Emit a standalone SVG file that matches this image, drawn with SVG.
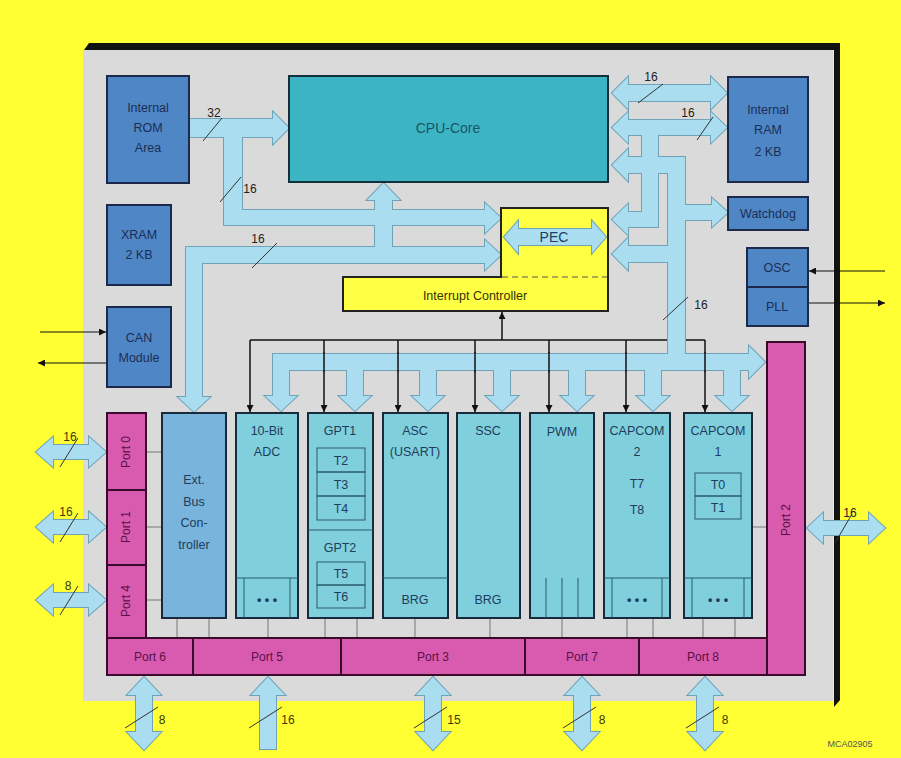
<svg xmlns="http://www.w3.org/2000/svg" xmlns:xlink="http://www.w3.org/1999/xlink" width="901" height="758" viewBox="0 0 901 758">
<style>
text{font-family:"Liberation Sans",Arial,sans-serif;text-anchor:middle}
.mem{fill:#4F86C6;stroke:#1B2A4A;stroke-width:2}
.mtx{font-size:12.5px;fill:#1B2E55}
.mod{fill:#80CFDC;stroke:#1A2A3A;stroke-width:2}
.sub{fill:none;stroke:#2A5A6A;stroke-width:1}
.ttx{font-size:12.5px;fill:#1E3D5C}
.port{fill:#D95BAF;stroke:#3A0A2A;stroke-width:2}
.ptx{font-size:12px;fill:#5A1045}
.bo{fill:none;stroke:#6FA3B8;stroke-width:2;stroke-linejoin:miter}
.bf{fill:#A9DDEF}
.sig{stroke:#111;stroke-width:1.5;fill:none}
.thin{stroke:#777;stroke-width:1;fill:none}
.sl{stroke:#333;stroke-width:1;fill:none}
.lbl{font-size:12px;fill:#222}
.ylbl{font-size:12px;fill:#3A3A00}
</style>
<defs>
<marker id="ah" viewBox="0 0 10 10" refX="10" refY="5" markerWidth="7" markerHeight="7" orient="auto" markerUnits="userSpaceOnUse">
<path d="M0,0 L10,5 L0,10 Z" fill="#111"/>
</marker>
<path id="b1" d="M189,119 H273 V112 L289,128 L273,144 V137 H242 V210 H485 V203 L501,218 L485,233 V225 H224 V137 H189 Z"/>
<path id="b2" d="M186,247 H375 V200 H367 L383.5,183 L400,200 H392 V247 H485 V240 L501,255 L485,270 V263 H202 V397 H210 L194,412 L178,397 H186 Z"/>
<path id="b3" d="M612,93 L628,77 V85 H711 V77 L727,93 L711,109 V101 H628 V109 Z"/>
<path id="b4" d="M612,127.5 L628,112 V120 H711 V112 L727,127.5 L711,143 V135 H658 V227 H628 V235 L612,219.5 L628,204 V212 H642 V135 H628 V143 Z"/>
<path id="b5" d="M612,165 L628,149 V157 H685 V205 H712 V198 L728,212.5 L712,227 V220 H685 V354 H749 V346 L765,362 L749,378 V370 H740 V396 H748 L732,411 L716,396 H724 V370 H661 V396 H669 L653,411 L637,396 H645 V370 H585 V396 H593 L577,411 L561,396 H569 V370 H510 V396 H518 L502,411 L486,396 H494 V370 H436 V396 H444 L428,411 L412,396 H420 V370 H363 V396 H371 L355,411 L339,396 H347 V370 H289 V396 H297 L281,411 L265,396 H273 V354 H668 V262 H628 V270 L612,254 L628,238 V246 H668 V173 H628 V181 Z"/>
<path id="pec" d="M504,237 L518,221 V229 H592 V221 L606,237 L592,253 V245 H518 V253 Z"/>
<path id="e0" d="M36,452 L53,437 V445 H89 V437 L106,452 L89,467 V459 H53 V467 Z"/>
<path id="e1" d="M36,527 L53,512 V520 H89 V512 L106,527 L89,542 V534 H53 V542 Z"/>
<path id="e4" d="M36,600 L53,585 V593 H89 V585 L106,600 L89,615 V607 H53 V615 Z"/>
<path id="e2" d="M807,528 L823,513 V521 H869 V513 L885,528 L869,543 V535 H823 V543 Z"/>
<path id="p6" d="M144,677 L161,695 H152 V732 H161 L144,750 L127,732 H136 V695 H127 Z"/>
<path id="p5" d="M268,677 L285,695 H276 V749 H260 V695 H251 Z"/>
<path id="p3" d="M433,677 L450,695 H441 V732 H450 L433,750 L416,732 H425 V695 H416 Z"/>
<path id="p7" d="M582,677 L599,695 H590 V732 H599 L582,750 L565,732 H574 V695 H565 Z"/>
<path id="p8" d="M705,677 L722,695 H713 V732 H722 L705,750 L688,732 H697 V695 H688 Z"/>
</defs>

<rect x="0" y="0" width="901" height="758" fill="#FFFF33"/>
<g id="chip">
<polygon points="84,50 89,43 840,43 840,700 834,707 834,50" fill="#111"/>
<rect x="83" y="50" width="750" height="651" fill="#DADADA"/>
</g>

<g id="connectors">
<g class="sig">
<line x1="250" y1="340" x2="668" y2="340"/>
<line x1="685" y1="340" x2="705" y2="340"/>
<line x1="502" y1="340" x2="502" y2="312" marker-end="url(#ah)"/>
<line x1="250" y1="340" x2="250" y2="412" marker-end="url(#ah)"/>
<line x1="324" y1="340" x2="324" y2="412" marker-end="url(#ah)"/>
<line x1="398" y1="340" x2="398" y2="412" marker-end="url(#ah)"/>
<line x1="475" y1="340" x2="475" y2="412" marker-end="url(#ah)"/>
<line x1="549" y1="340" x2="549" y2="412" marker-end="url(#ah)"/>
<line x1="626" y1="340" x2="626" y2="412" marker-end="url(#ah)"/>
<line x1="705" y1="340" x2="705" y2="412" marker-end="url(#ah)"/>
<line x1="40" y1="332" x2="106" y2="332" stroke-width="1" marker-end="url(#ah)"/>
<line x1="107" y1="363" x2="38" y2="363" stroke-width="1" marker-end="url(#ah)"/>
<line x1="885" y1="271" x2="809" y2="271" stroke-width="1" marker-end="url(#ah)"/>
<line x1="808" y1="303" x2="885" y2="303" stroke-width="1" marker-end="url(#ah)"/>
</g>
<g id="bus-outline">
<use xlink:href="#b1" class="bo"/><use xlink:href="#b2" class="bo"/><use xlink:href="#b3" class="bo"/><use xlink:href="#b4" class="bo"/><use xlink:href="#b5" class="bo"/>
<use xlink:href="#e0" class="bo"/><use xlink:href="#e1" class="bo"/><use xlink:href="#e4" class="bo"/><use xlink:href="#e2" class="bo"/>
<use xlink:href="#p6" class="bo"/><use xlink:href="#p5" class="bo"/><use xlink:href="#p3" class="bo"/><use xlink:href="#p7" class="bo"/><use xlink:href="#p8" class="bo"/>
</g>
<g id="bus-fill">
<use xlink:href="#b1" class="bf"/><use xlink:href="#b2" class="bf"/><use xlink:href="#b3" class="bf"/><use xlink:href="#b4" class="bf"/><use xlink:href="#b5" class="bf"/>
<use xlink:href="#e0" class="bf"/><use xlink:href="#e1" class="bf"/><use xlink:href="#e4" class="bf"/><use xlink:href="#e2" class="bf"/>
<use xlink:href="#p6" class="bf"/><use xlink:href="#p5" class="bf"/><use xlink:href="#p3" class="bf"/><use xlink:href="#p7" class="bf"/><use xlink:href="#p8" class="bf"/>
</g>
<g class="sig" stroke-width="1.5">
<line x1="324" y1="352" x2="324" y2="372"/>
<line x1="398" y1="352" x2="398" y2="372"/>
<line x1="475" y1="352" x2="475" y2="372"/>
<line x1="549" y1="352" x2="549" y2="372"/>
<line x1="626" y1="352" x2="626" y2="372"/>
<line x1="705" y1="352" x2="705" y2="372"/>
</g>
<g class="thin">
<line x1="146" y1="452" x2="162" y2="452"/>
<line x1="146" y1="527" x2="162" y2="527"/>
<line x1="146" y1="600" x2="162" y2="600"/>
<line x1="752" y1="527" x2="767" y2="527"/>
<line x1="177" y1="618" x2="177" y2="638"/>
<line x1="209" y1="618" x2="209" y2="638"/>
<line x1="268" y1="618" x2="268" y2="638"/>
<line x1="325" y1="618" x2="325" y2="638"/>
<line x1="357" y1="618" x2="357" y2="638"/>
<line x1="415" y1="618" x2="415" y2="638"/>
<line x1="490" y1="618" x2="490" y2="638"/>
<line x1="562" y1="618" x2="562" y2="638"/>
<line x1="627" y1="618" x2="627" y2="638"/>
<line x1="653" y1="618" x2="653" y2="638"/>
<line x1="703" y1="618" x2="703" y2="638"/>
<line x1="735" y1="618" x2="735" y2="638"/>
</g>
<g class="sl">
<line x1="203" y1="141" x2="222" y2="118"/>
<line x1="220" y1="202" x2="241" y2="177"/>
<line x1="252" y1="268" x2="277" y2="243"/>
<line x1="638" y1="103" x2="663" y2="84"/>
<line x1="697" y1="140" x2="713" y2="117"/>
<line x1="663" y1="320" x2="688" y2="297"/>
<line x1="60" y1="467" x2="78" y2="438"/>
<line x1="60" y1="542" x2="78" y2="513"/>
<line x1="60" y1="615" x2="78" y2="586"/>
<line x1="835" y1="543" x2="852" y2="514"/>
<line x1="125" y1="728" x2="158" y2="707"/>
<line x1="249" y1="728" x2="282" y2="707"/>
<line x1="414" y1="728" x2="447" y2="707"/>
<line x1="563" y1="728" x2="596" y2="707"/>
<line x1="686" y1="728" x2="719" y2="707"/>
</g>
<g>
<text class="lbl" x="214" y="117">32</text>
<text class="lbl" x="250" y="193">16</text>
<text class="lbl" x="258" y="243">16</text>
<text class="lbl" x="651" y="81">16</text>
<text class="lbl" x="688" y="117">16</text>
<text class="lbl" x="701" y="309">16</text>
<text class="ylbl" x="70" y="441">16</text>
<text class="ylbl" x="66" y="516">16</text>
<text class="ylbl" x="68" y="590">8</text>
<text class="lbl" x="850" y="517">16</text>
<text class="ylbl" x="162" y="724">8</text>
<text class="ylbl" x="288" y="724">16</text>
<text class="ylbl" x="454" y="724">15</text>
<text class="ylbl" x="602" y="724">8</text>
<text class="ylbl" x="725" y="724">8</text>
</g>
</g>

<g id="rom"><rect class="mem" x="107" y="76" width="82" height="107"/>
<text class="mtx" x="148" y="112">Internal</text><text class="mtx" x="148" y="132">ROM</text><text class="mtx" x="148" y="152">Area</text></g>
<g id="cpu"><rect x="289" y="76" width="319" height="106" fill="#3DB4C4" stroke="#14303A" stroke-width="2"/>
<text x="448" y="133" style="font-size:14px;fill:#1A5566">CPU-Core</text></g>
<g id="ram"><rect class="mem" x="728" y="77" width="80" height="105"/>
<text class="mtx" x="768" y="114">Internal</text><text class="mtx" x="768" y="134">RAM</text><text class="mtx" x="768" y="156">2 KB</text></g>
<g id="watchdog"><rect class="mem" x="728" y="197" width="80" height="33"/>
<text class="mtx" x="768" y="218">Watchdog</text></g>
<g id="osc"><rect class="mem" x="747" y="248" width="61" height="39"/>
<text class="mtx" x="777" y="272">OSC</text></g>
<g id="pll"><rect class="mem" x="747" y="287" width="61" height="39"/>
<text class="mtx" x="777" y="311">PLL</text></g>
<g id="xram"><rect class="mem" x="107" y="205" width="64" height="80"/>
<text class="mtx" x="139" y="239">XRAM</text><text class="mtx" x="139" y="259">2 KB</text></g>
<g id="can"><rect class="mem" x="107" y="307" width="64" height="80"/>
<text class="mtx" x="139" y="342">CAN</text><text class="mtx" x="139" y="362">Module</text></g>

<g id="intctrl">
<polygon points="501,208 608,208 608,311 343,311 343,277 501,277" fill="#FFFF44" stroke="#222" stroke-width="2"/>
<line x1="502" y1="277" x2="607" y2="277" stroke="#555" stroke-width="1" stroke-dasharray="6,4"/>
<use xlink:href="#pec" class="bo"/><use xlink:href="#pec" class="bf"/>
<text x="554" y="242" style="font-size:14px;fill:#1B3D66">PEC</text>
<text x="475" y="300" style="font-size:12.5px;fill:#333300">Interrupt Controller</text>
</g>

<g id="extbus"><rect x="162" y="413" width="64" height="205" fill="#78B4DC" stroke="#1A2A3A" stroke-width="2"/>
<text class="ttx" x="194" y="484">Ext.</text><text class="ttx" x="194" y="506">Bus</text><text class="ttx" x="194" y="527">Con-</text><text class="ttx" x="194" y="549">troller</text></g>

<g id="adc"><rect class="mod" x="236" y="413" width="62" height="205"/>
<text class="ttx" x="267" y="435">10-Bit</text><text class="ttx" x="267" y="456">ADC</text>
<path class="sub" d="M236,578 H298 M244,578 V618 M290,578 V618"/>
<text class="ttx" x="267" y="604" style="font-weight:bold">• • •</text></g>

<g id="gpt"><rect class="mod" x="308" y="413" width="65" height="205"/>
<text class="ttx" x="340" y="435">GPT1</text>
<rect class="sub" x="317" y="448" width="48" height="24"/><text class="ttx" x="341" y="465">T2</text>
<rect class="sub" x="317" y="472" width="48" height="24"/><text class="ttx" x="341" y="489">T3</text>
<rect class="sub" x="317" y="496" width="48" height="24"/><text class="ttx" x="341" y="513">T4</text>
<line class="sub" x1="308" y1="530" x2="373" y2="530"/>
<text class="ttx" x="340" y="552">GPT2</text>
<rect class="sub" x="317" y="562" width="48" height="23"/><text class="ttx" x="341" y="578">T5</text>
<rect class="sub" x="317" y="585" width="48" height="23"/><text class="ttx" x="341" y="601">T6</text></g>

<g id="asc"><rect class="mod" x="383" y="413" width="65" height="205"/>
<text class="ttx" x="415" y="435">ASC</text><text class="ttx" x="415" y="456">(USART)</text>
<line class="sub" x1="383" y1="578" x2="448" y2="578"/>
<text class="ttx" x="415" y="604">BRG</text></g>

<g id="ssc"><rect class="mod" x="457" y="413" width="63" height="205"/>
<text class="ttx" x="488" y="435">SSC</text><text class="ttx" x="488" y="604">BRG</text></g>

<g id="pwm"><rect class="mod" x="530" y="413" width="64" height="205"/>
<text class="ttx" x="562" y="436">PWM</text>
<path class="sub" d="M546,578 V618 M562,578 V618 M578,578 V618"/></g>

<g id="capcom2"><rect class="mod" x="604" y="413" width="66" height="205"/>
<text class="ttx" x="637" y="435">CAPCOM</text><text class="ttx" x="637" y="456">2</text>
<text class="ttx" x="637" y="488">T7</text><text class="ttx" x="637" y="514">T8</text>
<path class="sub" d="M604,578 H670 M612,578 V618 M662,578 V618"/>
<text class="ttx" x="637" y="604" style="font-weight:bold">• • •</text></g>

<g id="capcom1"><rect class="mod" x="684" y="413" width="68" height="205"/>
<text class="ttx" x="718" y="435">CAPCOM</text><text class="ttx" x="718" y="456">1</text>
<rect class="sub" x="695" y="473" width="46" height="23"/><text class="ttx" x="718" y="489">T0</text>
<rect class="sub" x="695" y="496" width="46" height="23"/><text class="ttx" x="718" y="512">T1</text>
<path class="sub" d="M684,578 H752 M692,578 V618 M744,578 V618"/>
<text class="ttx" x="718" y="604" style="font-weight:bold">• • •</text></g>

<g id="port0"><rect class="port" x="107" y="413" width="39" height="77"/><text class="ptx" transform="translate(130,452) rotate(-90)">Port 0</text></g>
<g id="port1"><rect class="port" x="107" y="490" width="39" height="75"/><text class="ptx" transform="translate(130,527) rotate(-90)">Port 1</text></g>
<g id="port4"><rect class="port" x="107" y="565" width="39" height="73"/><text class="ptx" transform="translate(130,601) rotate(-90)">Port 4</text></g>
<g id="port6"><rect class="port" x="107" y="638" width="86" height="37"/><text class="ptx" x="150" y="661">Port 6</text></g>
<g id="port5"><rect class="port" x="193" y="638" width="148" height="37"/><text class="ptx" x="267" y="661">Port 5</text></g>
<g id="port3"><rect class="port" x="341" y="638" width="184" height="37"/><text class="ptx" x="433" y="661">Port 3</text></g>
<g id="port7"><rect class="port" x="525" y="638" width="114" height="37"/><text class="ptx" x="582" y="661">Port 7</text></g>
<g id="port8"><rect class="port" x="639" y="638" width="128" height="37"/><text class="ptx" x="703" y="661">Port 8</text></g>
<g id="port2"><rect class="port" x="767" y="342" width="38" height="333"/><text class="ptx" transform="translate(790,520) rotate(-90)">Port 2</text></g>

<text x="850" y="747" style="font-size:9px;fill:#555">MCA02905</text>
</svg>
